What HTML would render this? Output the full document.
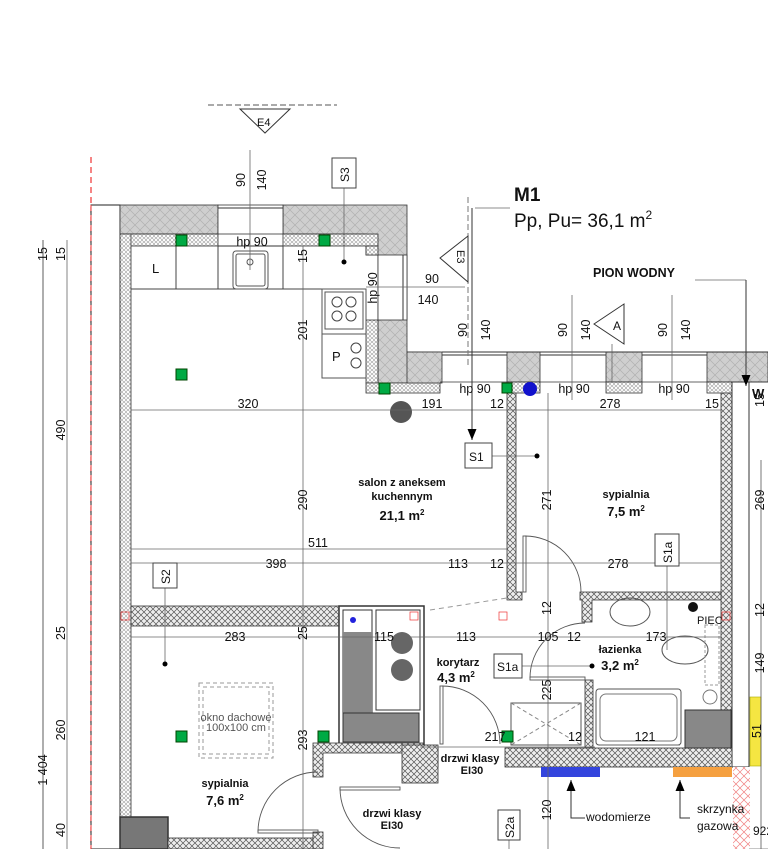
<!DOCTYPE html>
<html><head><meta charset="utf-8"><style>
html,body{margin:0;padding:0;background:#fff}
svg{display:block}
text{font-family:"Liberation Sans",sans-serif;fill:#111}
.b{font-weight:bold}
</style></head><body>
<svg width="768" height="849" viewBox="0 0 768 849" xmlns="http://www.w3.org/2000/svg">
<defs>
<pattern id="gx" width="10" height="10" patternUnits="userSpaceOnUse">
<rect width="10" height="10" fill="#cfcfcf"/><path d="M0 0L10 10M10 0L0 10" stroke="#b0b0b0" stroke-width="0.7"/></pattern>
<pattern id="hx" width="6" height="6" patternUnits="userSpaceOnUse">
<rect width="6" height="6" fill="#eee"/><path d="M0 0L6 6M6 0L0 6" stroke="#555" stroke-width="0.7"/></pattern>
<pattern id="ins" width="4" height="4" patternUnits="userSpaceOnUse">
<rect width="4" height="4" fill="#fff"/><circle cx="2" cy="2" r="1.4" fill="none" stroke="#777" stroke-width="0.5"/></pattern>
<pattern id="rx" width="8" height="8" patternUnits="userSpaceOnUse">
<rect width="8" height="8" fill="#fff"/><path d="M0 0L8 8M8 0L0 8" stroke="#f08080" stroke-width="0.7"/></pattern>
<marker id="ar" markerWidth="12" markerHeight="10" refX="11" refY="4.5" orient="auto-start-reverse" markerUnits="userSpaceOnUse"><path d="M0 0L11 4.5L0 9Z" fill="#000"/></marker>
</defs>

<line x1="91" y1="157" x2="91" y2="849" stroke="#e33" stroke-width="1.2" stroke-dasharray="6,4"/>
<rect x="91" y="205" width="29" height="644" fill="#fff" stroke="#222" stroke-width="1"/>
<line x1="91" y1="205" x2="91" y2="849" stroke="#e33" stroke-width="1" stroke-dasharray="6,4"/>

<rect x="120" y="205" width="98" height="29" fill="url(#gx)" stroke="#333" stroke-width="0.8"/>
<path d="M283 205H407V352H440V383H378V255H366V234H283Z" fill="url(#gx)" stroke="#333" stroke-width="0.8"/>
<rect x="218" y="205" width="65" height="29" fill="#fff" stroke="#333" stroke-width="0.8"/>
<line x1="218" y1="208" x2="283" y2="208" stroke="#333"/>
<rect x="378" y="255" width="29" height="65" fill="#fff" stroke="#333" stroke-width="0.8"/>
<line x1="403" y1="255" x2="403" y2="320" stroke="#333"/>
<rect x="120" y="234" width="98" height="12" fill="url(#ins)" stroke="#333" stroke-width="0.8"/>
<rect x="283" y="234" width="95" height="12" fill="url(#ins)" stroke="#333" stroke-width="0.8"/>
<rect x="366" y="246" width="12" height="9" fill="url(#ins)" stroke="#333" stroke-width="0.8"/>
<rect x="366" y="320" width="12" height="63" fill="url(#ins)" stroke="#333" stroke-width="0.8"/>
<rect x="366" y="383" width="74" height="10" fill="url(#ins)" stroke="#333" stroke-width="0.8"/>
<rect x="120" y="234" width="11" height="583" fill="url(#ins)" stroke="#333" stroke-width="0.8"/>
<line x1="218" y1="246" x2="283" y2="246" stroke="#333"/>

<rect x="407" y="352" width="35" height="31" fill="url(#gx)" stroke="#333" stroke-width="0.8"/>
<rect x="507" y="352" width="33" height="30" fill="url(#gx)" stroke="#333" stroke-width="0.8"/>
<rect x="606" y="352" width="36" height="30" fill="url(#gx)" stroke="#333" stroke-width="0.8"/>
<rect x="707" y="352" width="61" height="30" fill="url(#gx)" stroke="#333" stroke-width="0.8"/>
<line x1="442" y1="352" x2="768" y2="352" stroke="#333"/>
<line x1="442" y1="355" x2="507" y2="355" stroke="#333"/><line x1="540" y1="355" x2="606" y2="355" stroke="#333"/><line x1="642" y1="355" x2="707" y2="355" stroke="#333"/>
<line x1="440" y1="382" x2="768" y2="382" stroke="#333" stroke-width="0.8"/>
<rect x="507" y="382" width="33" height="11" fill="url(#ins)" stroke="#333" stroke-width="0.8"/>
<rect x="606" y="382" width="36" height="11" fill="url(#ins)" stroke="#333" stroke-width="0.8"/>
<rect x="707" y="382" width="25" height="11" fill="url(#ins)" stroke="#333" stroke-width="0.8"/>
<rect x="721" y="393" width="11" height="356" fill="url(#hx)" stroke="#333" stroke-width="0.8"/>
<rect x="732" y="382" width="17" height="385" fill="#fff" stroke="#333" stroke-width="1"/>
<rect x="733" y="767" width="17" height="82" fill="url(#rx)"/>
<rect x="750" y="697" width="11" height="69" fill="#f5e642" stroke="#aa0" stroke-width="0.6"/>
<line x1="761" y1="460" x2="761" y2="849" stroke="#555" stroke-width="0.8"/>

<path d="M507 393H516V592H522V600H507Z" fill="url(#hx)" stroke="#333" stroke-width="0.8"/>
<path d="M580 592H721V600H592V622H582V600H580Z" fill="url(#hx)" stroke="#333" stroke-width="0.8"/>
<rect x="585" y="680" width="8" height="68" fill="url(#hx)" stroke="#333" stroke-width="0.8"/>
<rect x="420" y="748" width="18" height="19" fill="url(#hx)" stroke="#333" stroke-width="0.8"/>
<rect x="505" y="748" width="227" height="19" fill="url(#hx)" stroke="#333" stroke-width="0.8"/>
<rect x="541" y="767" width="59" height="10" fill="#3344dd"/>
<rect x="673" y="767" width="59" height="10" fill="#f5a040"/>
<rect x="685" y="710" width="46" height="38" fill="#888" stroke="#333"/>

<rect x="131" y="606" width="209" height="20" fill="url(#hx)" stroke="#333" stroke-width="0.8"/>
<rect x="339" y="606" width="85" height="139" fill="#fff" stroke="#333" stroke-width="1.5"/>
<rect x="343" y="610" width="29" height="103" fill="#fff" stroke="#333"/>
<rect x="343" y="632" width="29" height="81" fill="#888"/>
<rect x="376" y="610" width="44" height="100" fill="#fff" stroke="#333"/>
<circle cx="402" cy="643" r="11" fill="#666"/><circle cx="402" cy="670" r="11" fill="#666"/>
<rect x="343" y="713" width="76" height="29" fill="#888" stroke="#333"/>
<circle cx="353" cy="620" r="3" fill="#22d"/>
<path d="M313 743H423V753H323V777H313Z" fill="url(#hx)" stroke="#333" stroke-width="0.8"/>
<rect x="402" y="745" width="36" height="38" fill="url(#hx)" stroke="#333" stroke-width="0.8"/>
<rect x="120" y="817" width="48" height="32" fill="#777" stroke="#333" stroke-width="1.5"/>
<rect x="168" y="838" width="150" height="11" fill="url(#hx)" stroke="#333" stroke-width="0.8"/>
<rect x="313" y="832" width="10" height="17" fill="url(#hx)" stroke="#333" stroke-width="0.8"/>
<rect x="121" y="612" width="8" height="8" fill="none" stroke="#e33" stroke-width="0.7"/>
<rect x="410" y="612" width="8" height="8" fill="none" stroke="#e33" stroke-width="0.7"/>
<rect x="499" y="612" width="8" height="8" fill="none" stroke="#e33" stroke-width="0.7"/>
<rect x="722" y="612" width="8" height="8" fill="none" stroke="#e33" stroke-width="0.7"/>

<rect x="199" y="683" width="74" height="75" fill="none" stroke="#999" stroke-dasharray="4,3"/>
<rect x="203" y="687" width="66" height="67" fill="none" stroke="#999" stroke-dasharray="4,3"/>

<line x1="131" y1="289" x2="366" y2="289" stroke="#444"/>
<line x1="176" y1="246" x2="176" y2="289" stroke="#444"/><line x1="218" y1="246" x2="218" y2="289" stroke="#444"/><line x1="283" y1="246" x2="283" y2="289" stroke="#444"/>
<rect x="233" y="251" width="35" height="38" rx="3" fill="none" stroke="#555"/><rect x="236" y="254" width="29" height="32" rx="2" fill="none" stroke="#555"/>
<circle cx="250" cy="262" r="3" fill="none" stroke="#555"/>
<rect x="322" y="289" width="44" height="45" fill="none" stroke="#555"/>
<rect x="325" y="292" width="38" height="37" fill="none" stroke="#555"/>
<circle cx="337" cy="302" r="5" fill="none" stroke="#444"/><circle cx="351" cy="302" r="5" fill="none" stroke="#444"/>
<circle cx="337" cy="316" r="5" fill="none" stroke="#444"/><circle cx="351" cy="316" r="5" fill="none" stroke="#444"/>
<rect x="322" y="334" width="44" height="44" fill="none" stroke="#555"/>
<circle cx="356" cy="348" r="5" fill="none" stroke="#444"/><circle cx="356" cy="363" r="5" fill="none" stroke="#444"/>
<text x="152" y="273" font-size="13">L</text>
<text x="332" y="361" font-size="13">P</text>

<ellipse cx="630" cy="612" rx="20" ry="14" fill="none" stroke="#555"/>
<ellipse cx="685" cy="650" rx="23" ry="14" fill="none" stroke="#555"/>
<rect x="705" y="625" width="14" height="60" fill="none" stroke="#999" stroke-dasharray="3,2"/>
<circle cx="710" cy="697" r="7" fill="none" stroke="#777"/>
<rect x="596" y="689" width="85" height="56" rx="3" fill="none" stroke="#555"/>
<rect x="600" y="694" width="77" height="47" rx="6" fill="none" stroke="#777"/>
<rect x="511" y="703" width="70" height="42" fill="none" stroke="#555"/>
<path d="M511 703L581 745M581 703L511 745" stroke="#888" stroke-dasharray="4,3"/>
<circle cx="693" cy="607" r="5" fill="#111"/>
<text x="697" y="624" font-size="11">PIEC</text>

<g fill="#0a4" stroke="#040" stroke-width="1">
<rect x="176" y="235" width="11" height="11"/><rect x="319" y="235" width="11" height="11"/>
<rect x="176" y="369" width="11" height="11"/><rect x="379" y="383" width="11" height="11"/>
<rect x="502" y="383" width="10" height="10"/><rect x="176" y="731" width="11" height="11"/>
<rect x="318" y="731" width="11" height="11"/><rect x="502" y="731" width="11" height="11"/></g>
<circle cx="530" cy="389" r="7" fill="#11c"/>
<circle cx="401" cy="412" r="11" fill="#555"/>

<g fill="none" stroke="#555" stroke-width="0.9">
<path d="M525 536A56 56 0 0 1 581 592"/><rect x="523" y="536" width="3" height="56"/>
<path d="M442 686A58 58 0 0 1 500 744"/><rect x="440" y="686" width="3" height="58"/>
<path d="M530 678A55 55 0 0 1 585 623"/><rect x="530" y="677" width="55" height="3"/>
<path d="M258 832A60 60 0 0 1 318 772"/><rect x="258" y="830" width="60" height="3"/>
<path d="M340 788A60 60 0 0 0 400 848"/><rect x="340" y="787" width="60" height="3"/>
</g>
<line x1="430" y1="610" x2="507" y2="598" stroke="#999" stroke-dasharray="5,4"/>

<g stroke="#666" stroke-width="0.8" fill="none">
<line x1="131" y1="410" x2="721" y2="410"/><line x1="131" y1="563" x2="721" y2="563"/>
<line x1="131" y1="549" x2="507" y2="549"/>
<line x1="131" y1="637" x2="721" y2="637"/>
<line x1="420" y1="747" x2="595" y2="747"/><line x1="600" y1="745" x2="680" y2="745"/>
<line x1="303" y1="246" x2="303" y2="849"/><line x1="548" y1="393" x2="548" y2="849"/>
<line x1="43" y1="240" x2="43" y2="849" stroke="#999" stroke-width="1.6"/>
<line x1="67" y1="240" x2="67" y2="849"/>
<line x1="749" y1="849" x2="768" y2="849"/>
<line x1="250" y1="150" x2="250" y2="270"/>
<line x1="344" y1="188" x2="344" y2="262"/>
<line x1="366" y1="287" x2="465" y2="287"/>
<line x1="472" y1="315" x2="472" y2="420"/><line x1="572" y1="295" x2="572" y2="400"/><line x1="672" y1="295" x2="672" y2="400"/>
<line x1="612" y1="344" x2="612" y2="382"/>
<line x1="492" y1="456" x2="537" y2="456"/>
<line x1="522" y1="666" x2="592" y2="666"/>
<line x1="165" y1="588" x2="165" y2="664"/>
<line x1="667" y1="566" x2="667" y2="650"/>
<line x1="509" y1="840" x2="509" y2="849"/>
<line x1="475" y1="208" x2="510" y2="208"/>
<line x1="695" y1="280" x2="746" y2="280"/>
</g>
<line x1="746" y1="280" x2="746" y2="386" stroke="#333" marker-end="url(#ar)"/>
<line x1="472" y1="208" x2="472" y2="440" stroke="#333" marker-end="url(#ar)"/>
<path d="M571 780V818H585" fill="none" stroke="#333" marker-start="url(#ar)"/>
<path d="M680 780V818H690" fill="none" stroke="#333" marker-start="url(#ar)"/>
<line x1="208" y1="105" x2="337" y2="105" stroke="#555" stroke-dasharray="6,3"/>
<line x1="468" y1="197" x2="468" y2="365" stroke="#777" stroke-dasharray="6,3"/>
<circle cx="537" cy="456" r="2.5"/><circle cx="592" cy="666" r="2.5"/><circle cx="165" cy="664" r="2.5"/><circle cx="344" cy="262" r="2.5"/>

<path d="M240 109H290L265 133Z" fill="#fff" stroke="#333"/><text x="257" y="126" font-size="11">E4</text>
<path d="M440 258L468 236V282Z" fill="#fff" stroke="#333"/><text x="457" y="250" font-size="11" transform="rotate(90 457 250)">E3</text>
<path d="M594 324L624 304V344Z" fill="#fff" stroke="#333"/><text x="613" y="330" font-size="12">A</text>

<g fill="#fff" stroke="#444"><rect x="332" y="158" width="24" height="30"/><rect x="465" y="443" width="27" height="25"/>
<rect x="655" y="534" width="24" height="32"/><rect x="494" y="654" width="28" height="24"/><rect x="153" y="563" width="24" height="25"/><rect x="498" y="810" width="22" height="30"/></g>
<text x="349" y="182" font-size="12" transform="rotate(-90 349 182)">S3</text>
<text x="469" y="461" font-size="12">S1</text>
<text x="672" y="563" font-size="12" transform="rotate(-90 672 563)">S1a</text>
<text x="497" y="671" font-size="12">S1a</text>
<text x="170" y="584" font-size="12" transform="rotate(-90 170 584)">S2</text>
<text x="514" y="838" font-size="12" transform="rotate(-90 514 838)">S2a</text>

<text x="514" y="201" font-size="19" class="b">M1</text>
<text x="514" y="227" font-size="19">Pp, Pu= 36,1 m<tspan font-size="12" dy="-8">2</tspan></text>
<text x="593" y="277" font-size="12.5" class="b">PION WODNY</text>

<g font-size="11" class="b" text-anchor="middle">
<text x="402" y="486">salon z aneksem</text><text x="402" y="500">kuchennym</text>
<text x="402" y="520" font-size="13">21,1 m<tspan font-size="8" dy="-5">2</tspan></text>
<text x="626" y="498">sypialnia</text><text x="626" y="516" font-size="13">7,5 m<tspan font-size="8" dy="-5">2</tspan></text>
<text x="620" y="653">łazienka</text><text x="620" y="670" font-size="13">3,2 m<tspan font-size="8" dy="-5">2</tspan></text>
<text x="458" y="666">korytarz</text><text x="456" y="682" font-size="13">4,3 m<tspan font-size="8" dy="-5">2</tspan></text>
<text x="225" y="787">sypialnia</text><text x="225" y="805" font-size="13">7,6 m<tspan font-size="8" dy="-5">2</tspan></text>
<text x="470" y="762">drzwi klasy</text><text x="472" y="774">EI30</text>
<text x="392" y="817">drzwi klasy</text><text x="392" y="829">EI30</text>
</g>
<g font-size="11" text-anchor="middle">
<text x="236" y="721" style="fill:#555">okno dachowe</text><text x="236" y="731" style="fill:#555">100x100 cm</text></g>
<text x="586" y="821" font-size="12">wodomierze</text>
<text x="697" y="813" font-size="12">skrzynka</text><text x="697" y="830" font-size="12">gazowa</text>

<g font-size="12.5" text-anchor="middle">
<text x="248" y="408">320</text><text x="432" y="408">191</text><text x="497" y="408">12</text><text x="610" y="408">278</text><text x="712" y="408">15</text>
<text x="318" y="547">511</text>
<text x="276" y="568">398</text><text x="458" y="568">113</text><text x="497" y="568">12</text><text x="618" y="568">278</text>
<text x="235" y="641">283</text><text x="384" y="641">115</text><text x="466" y="641">113</text><text x="548" y="641">105</text><text x="574" y="641">12</text><text x="656" y="641">173</text>
<text x="495" y="741">217</text><text x="575" y="741">12</text><text x="645" y="741">121</text>
<text x="252" y="246">hp 90</text><text x="475" y="393">hp 90</text><text x="574" y="393">hp 90</text><text x="674" y="393">hp 90</text>
<text x="432" y="283">90</text><text x="428" y="304">140</text>
</g>
<g font-size="12.5" text-anchor="middle">
<text transform="translate(245 180) rotate(-90)">90</text><text transform="translate(266 180) rotate(-90)">140</text>
<text transform="translate(307 256) rotate(-90)">15</text>
<text transform="translate(377 288) rotate(-90)">hp 90</text>
<text transform="translate(307 330) rotate(-90)">201</text><text transform="translate(307 500) rotate(-90)">290</text><text transform="translate(307 740) rotate(-90)">293</text>
<text transform="translate(307 633) rotate(-90)">25</text>
<text transform="translate(467 330) rotate(-90)">90</text><text transform="translate(490 330) rotate(-90)">140</text>
<text transform="translate(567 330) rotate(-90)">90</text><text transform="translate(590 330) rotate(-90)">140</text>
<text transform="translate(667 330) rotate(-90)">90</text><text transform="translate(690 330) rotate(-90)">140</text>
<text transform="translate(551 500) rotate(-90)">271</text><text transform="translate(551 608) rotate(-90)">12</text>
<text transform="translate(551 690) rotate(-90)">225</text><text transform="translate(551 810) rotate(-90)">120</text>
<text transform="translate(764 400) rotate(-90)">15</text><text transform="translate(764 500) rotate(-90)">269</text>
<text transform="translate(764 610) rotate(-90)">12</text><text transform="translate(764 663) rotate(-90)">149</text>
<text transform="translate(761 731) rotate(-90)">51</text>
<text transform="translate(47 254) rotate(-90)">15</text><text transform="translate(65 254) rotate(-90)">15</text>
<text transform="translate(65 430) rotate(-90)">490</text><text transform="translate(65 633) rotate(-90)">25</text>
<text transform="translate(65 730) rotate(-90)">260</text><text transform="translate(47 770) rotate(-90)">1 404</text>
<text transform="translate(65 830) rotate(-90)">40</text>
</g>
<text x="753" y="835" font-size="12">922</text>
<text x="752" y="398" font-size="13" class="b">W</text>
</svg>
</body></html>
